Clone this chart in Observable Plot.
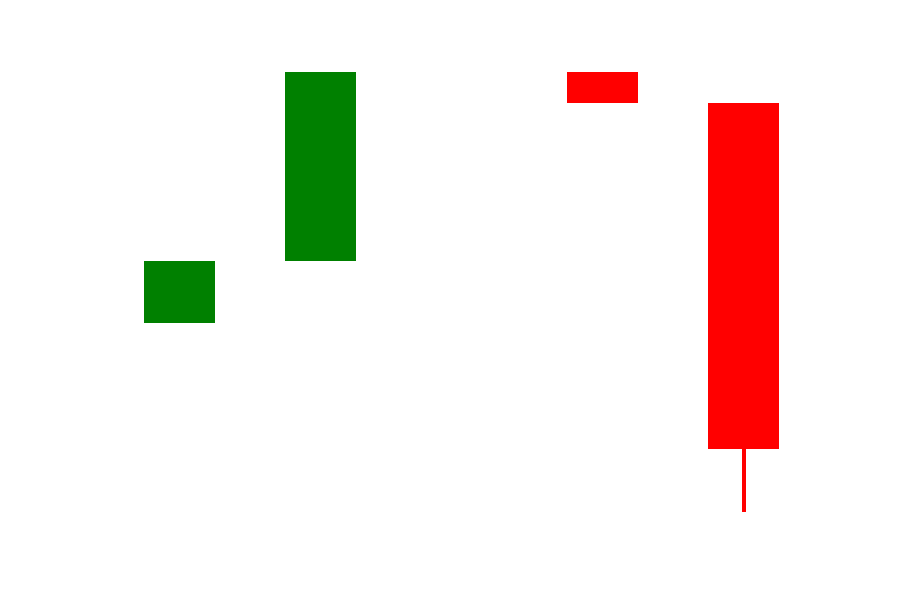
<!DOCTYPE html>
<html>
<head>
<meta charset="utf-8">
<script src="https://cdn.jsdelivr.net/npm/d3@7"></script>
<script src="https://cdn.jsdelivr.net/npm/@observablehq/plot@0.6"></script>
<style>
  html, body { margin: 0; padding: 0; background: #fff; }
</style>
</head>
<body>
<div id="chart"></div>
<script>
const periods = ["P1", "P2", "P3", "P4", "P5"];
const open  = [57.25, 72.75, null, 120,    112.25];
const close = [72.75, 120,   null, 112.25, 25.75];
const high  = [72.75, 120,   null, 120,    112.25];
const low   = [57.25, 72.75, null, 112.25, 10];

const data = periods.map((p, i) => ({
  period: p, open: open[i], close: close[i], high: high[i], low: low[i],
  up: open[i] != null && close[i] >= open[i]
})).filter(d => d.open != null);

const chart = Plot.plot({
  width: 900,
  height: 600,
  marginLeft: 73.5,
  marginRight: 51,
  marginTop: 72,
  marginBottom: 88,
  x: { domain: periods, padding: 0.5, round: false, axis: null },
  y: { domain: [10, 120], axis: null },
  marks: [
    Plot.ruleX(data, { x: "period", y1: "low", y2: "high", stroke: d => d.up ? "green" : "red", strokeWidth: 4, shapeRendering: "crispEdges" }),
    Plot.barY(data, { x: "period", y1: "open", y2: "close", fill: d => d.up ? "green" : "red", shapeRendering: "crispEdges" })
  ]
});
document.getElementById("chart").appendChild(chart);
</script>
</body>
</html>
